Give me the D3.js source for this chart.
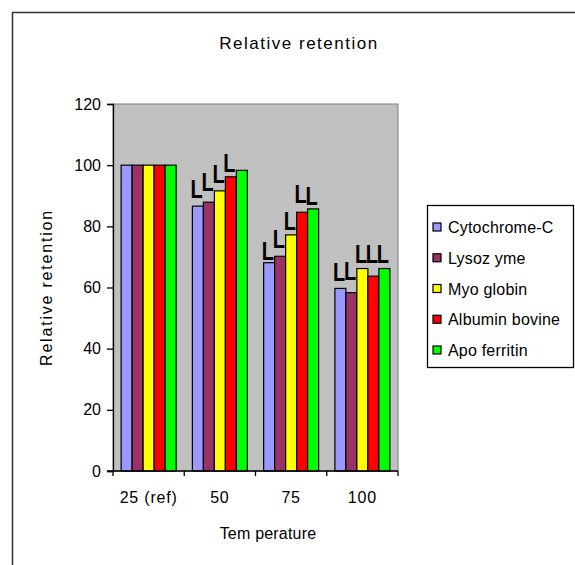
<!DOCTYPE html>
<html>
<head>
<meta charset="utf-8">
<script src="https://cdn.jsdelivr.net/npm/d3@7"></script>
<style>
  html, body { margin: 0; padding: 0; background: #fff; }
  svg text { font-family: "Liberation Sans", Arial, sans-serif; fill: #000; }
</style>
</head>
<body>
<svg id="chart" width="575" height="565"></svg>
<script>
// Temperature groups (x axis)
const categories = ["25 (ref)", "50", "75", "100"];

// Protein series and their fill colours
const seriesNames = ["Cytochrome-C", "Lysoz yme", "Myo globin", "Albumin bovine", "Apo ferritin"];
const seriesColors = ["#9999ff", "#993366", "#ffff00", "#ff0000", "#00ff00"];

// Relative retention (%) per series, one value per temperature
const cytochrome = [100, 86.6, 68.1, 59.7];
const lysozyme   = [100, 87.9, 70.2, 58.3];
const myoglobin  = [100, 91.6, 77.2, 66.2];
const albumin    = [100, 96.2, 84.6, 63.7];
const apoferritin= [100, 98.3, 85.7, 66.2];
const seriesValues = [cytochrome, lysozyme, myoglobin, albumin, apoferritin];

// Upper "L" markers per series (null = no marker)
const cytochromeUpper = [null, 89.2, 69.1, 62.1];
const lysozymeUpper   = [null, 91.4, 72.9, 62.4];
const myoglobinUpper  = [null, 94.3, 78.7, 67.9];
const albuminUpper    = [null, 97.7, 87.7, 67.9];
const apoferritinUpper= [null, null, 87.1, 67.9];
const seriesUpper = [cytochromeUpper, lysozymeUpper, myoglobinUpper, albuminUpper, apoferritinUpper];

// Y axis ticks
const yTicks = [0, 20, 40, 60, 80, 100, 120];

const svg = d3.select("#chart");

// Outer chart frame
svg.append("rect")
  .attr("x", 12.5).attr("y", 12.5)
  .attr("width", 600).attr("height", 600)
  .attr("fill", "#fff").attr("stroke", "#333").attr("stroke-width", 1.5);

const plot = { left: 113, top: 104, right: 398, bottom: 471 };
const plotW = plot.right - plot.left;
const plotH = plot.bottom - plot.top;

const g = svg.append("g").attr("transform", `translate(${plot.left},${plot.top})`);

const y = d3.scaleLinear().domain([0, 120]).range([plotH, 0]);
const x0 = d3.scaleBand().domain(categories).range([0, plotW]).padding(0);
const x1 = d3.scaleBand().domain(d3.range(seriesNames.length))
  .range([0, x0.bandwidth()]).paddingInner(0).paddingOuter(0.74);

// Grey plot background with a soft frame
g.append("rect")
  .attr("x", 0).attr("y", 0).attr("width", plotW).attr("height", plotH)
  .attr("fill", "#c0c0c0").attr("stroke", "#808080").attr("stroke-width", 1);

// Bars
const groups = g.selectAll("g.cat")
  .data(categories)
  .join("g")
  .attr("class", "cat")
  .attr("transform", c => `translate(${x0(c)},0)`);

groups.selectAll("rect")
  .data((c, ci) => seriesValues.map((vals, si) => ({ si, v: vals[ci] })))
  .join("rect")
  .attr("x", d => x1(d.si))
  .attr("y", d => y(d.v))
  .attr("width", x1.bandwidth())
  .attr("height", d => y(0) - y(d.v))
  .attr("fill", d => seriesColors[d.si])
  .attr("stroke", "#000")
  .attr("stroke-width", 1.2);

// "L" markers above bars (narrowed glyph)
groups.selectAll("text.mark")
  .data((c, ci) => seriesUpper.map((vals, si) => ({ si, v: vals[ci] })).filter(d => d.v != null))
  .join("text")
  .attr("class", "mark")
  .attr("transform", d => `translate(${x1(d.si) - 2},${y(d.v)}) scale(0.8,1)`)
  .attr("font-size", 25)
  .attr("font-weight", "bold")
  .text("L");

// Y axis
const yAxis = g.append("g")
  .call(d3.axisLeft(y).tickValues(yTicks).tickSize(6).tickPadding(6));
yAxis.select(".domain").attr("stroke", "#000").attr("stroke-width", 1.3);
yAxis.selectAll(".tick line").attr("stroke", "#000").attr("stroke-width", 1.3);
yAxis.selectAll(".tick text").attr("font-size", 16).attr("font-family", "Liberation Sans, Arial, sans-serif");

// X axis with ticks at category boundaries
const xAxisG = g.append("g").attr("transform", `translate(0,${plotH})`);
xAxisG.append("line")
  .attr("x1", -6).attr("x2", plotW).attr("stroke", "#000").attr("stroke-width", 1.3);
const boundaries = categories.map(c => x0(c)).concat([plotW]);
xAxisG.selectAll("line.tk")
  .data(boundaries)
  .join("line")
  .attr("class", "tk")
  .attr("x1", d => d).attr("x2", d => d)
  .attr("y1", 0).attr("y2", 5)
  .attr("stroke", "#000").attr("stroke-width", 1.3);
xAxisG.selectAll("text")
  .data(categories)
  .join("text")
  .attr("x", c => x0(c) + x0.bandwidth() / 2)
  .attr("y", 32)
  .attr("text-anchor", "middle")
  .attr("font-size", 16)
  .attr("letter-spacing", 0.8)
  .text(c => c);

// Titles
svg.append("text")
  .attr("x", 299).attr("y", 49)
  .attr("text-anchor", "middle")
  .attr("font-size", 17)
  .attr("letter-spacing", 1.5)
  .text("Relative retention");

svg.append("text")
  .attr("x", 268).attr("y", 539)
  .attr("text-anchor", "middle")
  .attr("font-size", 16)
  .attr("letter-spacing", 0.2)
  .text("Tem perature");

svg.append("text")
  .attr("transform", `translate(52,${plot.top + plotH / 2}) rotate(-90)`)
  .attr("text-anchor", "middle")
  .attr("font-size", 16)
  .attr("letter-spacing", 1.8)
  .text("Relative retention");

// Legend
const legend = svg.append("g").attr("transform", "translate(427,205)");
legend.append("rect")
  .attr("x", 0.5).attr("y", 0.5).attr("width", 146).attr("height", 162)
  .attr("fill", "#fff").attr("stroke", "#000").attr("stroke-width", 1.3);
const rowY = d3.scalePoint().domain(d3.range(seriesNames.length)).range([22, 145]);
const items = legend.selectAll("g.item")
  .data(seriesNames)
  .join("g")
  .attr("class", "item")
  .attr("transform", (d, i) => `translate(0,${rowY(i)})`);
items.append("rect")
  .attr("x", 6).attr("y", -4).attr("width", 8).attr("height", 8)
  .attr("fill", (d, i) => seriesColors[i])
  .attr("stroke", "#000").attr("stroke-width", 1.2);
items.append("text")
  .attr("x", 21).attr("y", 6)
  .attr("font-size", 16)
  .attr("letter-spacing", 0.2)
  .text(d => d);
</script>
</body>
</html>
